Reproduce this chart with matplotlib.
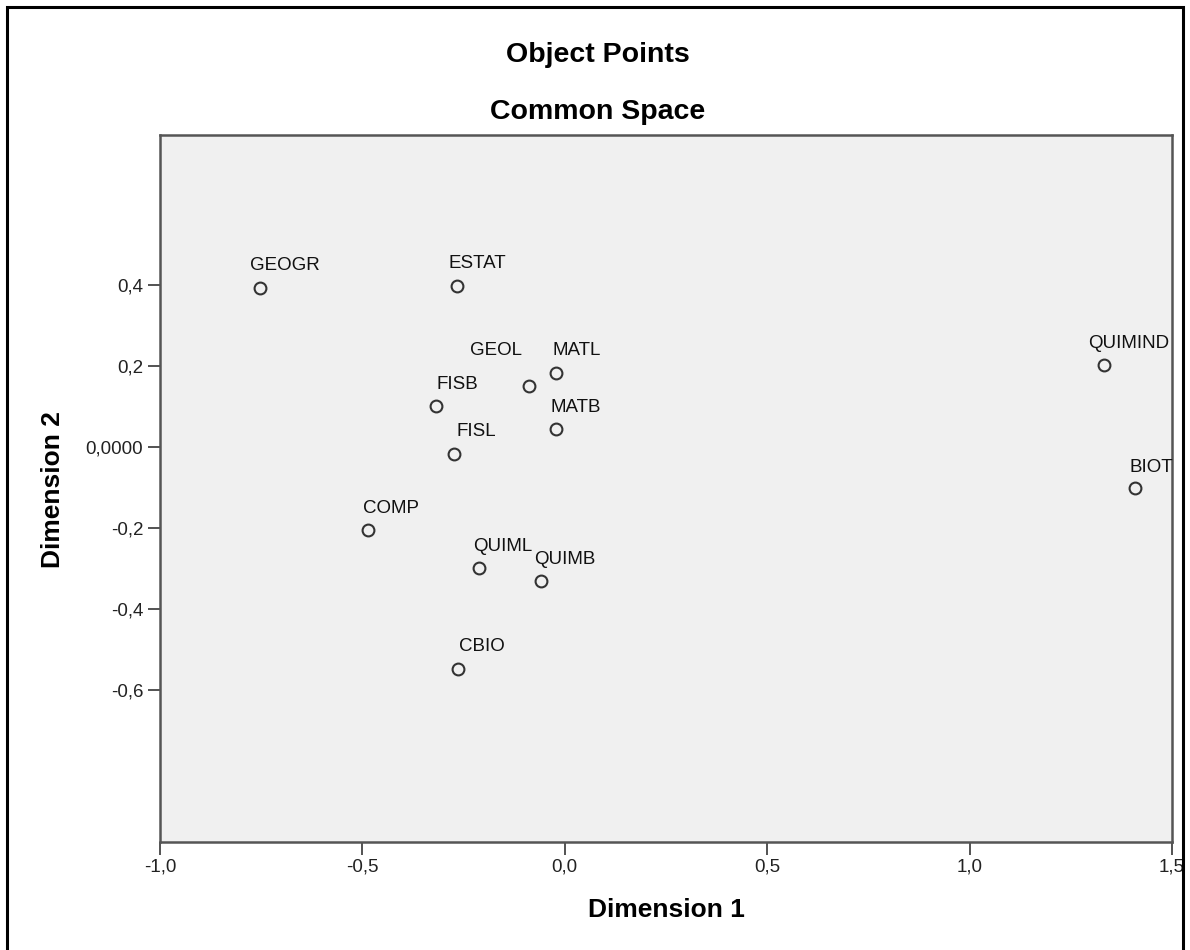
import matplotlib
matplotlib.use("Agg")
import matplotlib.pyplot as plt
from matplotlib.patches import Rectangle

plt.rcParams['font.family'] = ['Liberation Sans', 'DejaVu Sans']

# object points in the common space
names = ["GEOGR", "ESTAT", "GEOL", "MATL", "FISB", "MATB", "FISL",
         "COMP", "QUIML", "QUIMB", "CBIO", "QUIMIND", "BIOT"]
dim1 = [-0.753, -0.266, -0.088, -0.022, -0.318, -0.022, -0.274,
        -0.486, -0.212, -0.059, -0.264, 1.332, 1.409]
dim2 = [0.393, 0.398, 0.151, 0.183, 0.101, 0.044, -0.017,
        -0.205, -0.299, -0.331, -0.548, 0.202, -0.101]

xticks = [-1.0, -0.5, 0.0, 0.5, 1.0, 1.5]
xticklabels = ["-1,0", "-0,5", "0,0", "0,5", "1,0", "1,5"]
yticks = [0.4, 0.2, 0.0, -0.2, -0.4, -0.6]
yticklabels = ["0,4", "0,2", "0,0000", "-0,2", "-0,4", "-0,6"]

# label offsets (pixels) from each point, as placed in the original
label_dx = {"GEOGR": -10, "ESTAT": -9, "GEOL": -59, "MATL": -3, "FISB": 0,
            "MATB": -5, "FISL": 3, "COMP": -5, "QUIML": -6, "QUIMB": -7,
            "CBIO": 1, "QUIMIND": -16, "BIOT": -6}
label_dy = {"GEOL": 35, "BIOT": 20}

W, H = 1190, 950
fig = plt.figure(figsize=(W / 100, H / 100), dpi=100)
ax = fig.add_axes([160 / W, 1 - 842 / H, 1012 / W, 707 / H])
ax.set_facecolor("#f0f0f0")

ax.plot(dim1, dim2, linestyle="none", marker="o", markersize=8.5,
        markerfacecolor="none", markeredgecolor="#333333", markeredgewidth=1.5)

for n, x, y in zip(names, dim1, dim2):
    ax.annotate(n, (x, y), xytext=(label_dx[n], label_dy.get(n, 22)),
                textcoords="offset pixels", ha="left", va="center",
                fontsize=13.5, color="#111111", annotation_clip=False)

ax.set_xlim(-1.0, 1.5)
ax.set_ylim(-0.975, 0.77)
ax.set_xticks(xticks)
ax.set_xticklabels(xticklabels)
ax.set_yticks(yticks)
ax.set_yticklabels(yticklabels)
ax.tick_params(length=9, width=1.3, color="#444444", labelsize=13.5,
               labelcolor="#222222", pad=3)
for s in ax.spines.values():
    s.set_color("#555555")
    s.set_linewidth(1.8)

fig.text(598 / W, 1 - 55 / H, "Object Points", ha="center", va="center",
         fontsize=20.5, fontweight="bold")
fig.text(598 / W, 1 - 112 / H, "Common Space", ha="center", va="center",
         fontsize=20.5, fontweight="bold")
fig.text(666 / W, 1 - 910 / H, "Dimension 1", ha="center", va="center",
         fontsize=19, fontweight="bold")
fig.text(53 / W, 1 - 490 / H, "Dimension 2", ha="center", va="center",
         rotation=90, fontsize=19, fontweight="bold")

# outer frame of the chart
fig.patches.append(Rectangle((7 / W, -0.02), 1176 / W, 1.02 - 7 / H,
                             transform=fig.transFigure, fill=False,
                             edgecolor="black", linewidth=2.2))

fig.savefig("out.png", dpi=100)
